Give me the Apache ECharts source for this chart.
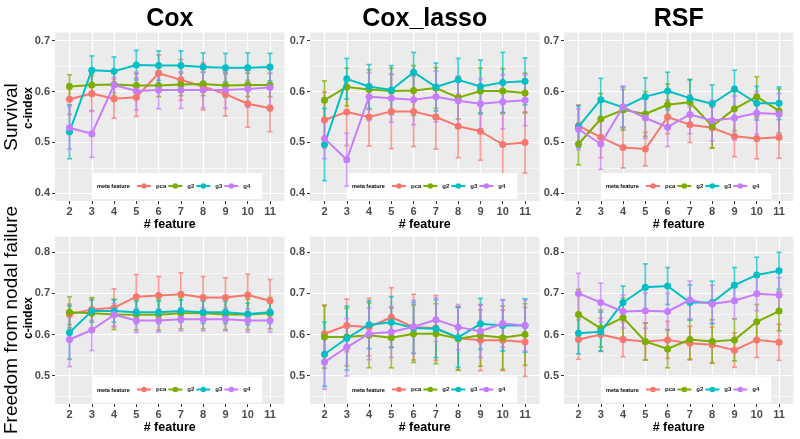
<!DOCTYPE html>
<html>
<head>
<meta charset="utf-8">
<script src="https://cdn.jsdelivr.net/npm/echarts@6/dist/echarts.min.js"></script>
<style>
html,body{margin:0;padding:0;background:#fff;}
#chart{width:800px;height:439px;}
</style>
</head>
<body>
<div id="chart"></div>
<script>
// ---------------- DATA ----------------
const features = [2, 3, 4, 5, 6, 7, 8, 9, 10, 11];
const groups = ['pca', 'g2', 'g3', 'g4'];
const methods = ['Cox', 'Cox_lasso', 'RSF'];
const outcomes = ['Survival', 'Freedom from nodal failure'];
const yTicksSurv = [0.4, 0.5, 0.6, 0.7];
const yMinorSurv = [0.45, 0.55, 0.65];
const yTicksFfnf = [0.5, 0.6, 0.7, 0.8];
const yMinorFfnf = [0.45, 0.55, 0.65, 0.75];

// Cox - Survival
const coxSurv_pca = [0.585, 0.596, 0.586, 0.589, 0.636, 0.623, 0.610, 0.595, 0.576, 0.567];
const coxSurv_pca_err = [0.030, 0.035, 0.038, 0.038, 0.036, 0.040, 0.046, 0.043, 0.046, 0.046];
const coxSurv_g2 = [0.610, 0.613, 0.614, 0.612, 0.612, 0.614, 0.615, 0.612, 0.613, 0.613];
const coxSurv_g2_err = [0.023, 0.022, 0.023, 0.023, 0.022, 0.022, 0.023, 0.023, 0.023, 0.023];
const coxSurv_g3 = [0.521, 0.642, 0.640, 0.652, 0.651, 0.651, 0.648, 0.647, 0.647, 0.648];
const coxSurv_g3_err = [0.053, 0.028, 0.028, 0.029, 0.029, 0.029, 0.028, 0.028, 0.029, 0.027];
const coxSurv_g4 = [0.529, 0.517, 0.613, 0.601, 0.603, 0.603, 0.603, 0.603, 0.605, 0.608];
const coxSurv_g4_err = [0.042, 0.046, 0.015, 0.037, 0.037, 0.036, 0.035, 0.036, 0.036, 0.035];

// Cox_lasso - Survival
const lassoSurv_pca = [0.544, 0.560, 0.550, 0.561, 0.561, 0.550, 0.532, 0.522, 0.496, 0.500];
const lassoSurv_pca_err = [0.055, 0.066, 0.057, 0.073, 0.069, 0.063, 0.062, 0.057, 0.062, 0.060];
const lassoSurv_g2 = [0.583, 0.609, 0.604, 0.601, 0.602, 0.607, 0.588, 0.601, 0.601, 0.597];
const lassoSurv_g2_err = [0.038, 0.037, 0.039, 0.045, 0.049, 0.040, 0.042, 0.045, 0.044, 0.039];
const lassoSurv_g3 = [0.496, 0.625, 0.610, 0.603, 0.638, 0.609, 0.623, 0.610, 0.618, 0.620];
const lassoSurv_g3_err = [0.071, 0.040, 0.043, 0.048, 0.039, 0.047, 0.042, 0.052, 0.059, 0.046];
const lassoSurv_g4 = [0.508, 0.466, 0.590, 0.587, 0.584, 0.590, 0.582, 0.576, 0.580, 0.583];
const lassoSurv_g4_err = [0.040, 0.052, 0.047, 0.047, 0.049, 0.050, 0.048, 0.049, 0.053, 0.050];

// RSF - Survival
const rsfSurv_pca = [0.533, 0.510, 0.490, 0.487, 0.550, 0.535, 0.529, 0.512, 0.508, 0.510];
const rsfSurv_pca_err = [0.041, 0.040, 0.040, 0.033, 0.033, 0.035, 0.040, 0.040, 0.040, 0.041];
const rsfSurv_g2 = [0.497, 0.546, 0.564, 0.556, 0.574, 0.579, 0.532, 0.566, 0.590, 0.562];
const rsfSurv_g2_err = [0.041, 0.050, 0.040, 0.044, 0.041, 0.045, 0.043, 0.043, 0.039, 0.043];
const rsfSurv_g3 = [0.531, 0.584, 0.569, 0.590, 0.601, 0.587, 0.576, 0.605, 0.577, 0.577];
const rsfSurv_g3_err = [0.041, 0.042, 0.040, 0.037, 0.037, 0.036, 0.037, 0.037, 0.033, 0.032];
const rsfSurv_g4 = [0.526, 0.497, 0.570, 0.548, 0.530, 0.555, 0.543, 0.548, 0.558, 0.556];
const rsfSurv_g4_err = [0.040, 0.050, 0.041, 0.040, 0.038, 0.038, 0.040, 0.043, 0.042, 0.040];

// Cox - Freedom from nodal failure
const coxFfnf_pca = [0.649, 0.661, 0.665, 0.692, 0.695, 0.698, 0.690, 0.690, 0.696, 0.682];
const coxFfnf_pca_err = [0.025, 0.027, 0.046, 0.054, 0.046, 0.052, 0.051, 0.048, 0.051, 0.052];
const coxFfnf_g2 = [0.654, 0.652, 0.649, 0.648, 0.648, 0.652, 0.652, 0.649, 0.649, 0.652];
const coxFfnf_g2_err = [0.038, 0.038, 0.037, 0.037, 0.037, 0.038, 0.038, 0.037, 0.037, 0.038];
const coxFfnf_g3 = [0.605, 0.657, 0.657, 0.654, 0.654, 0.657, 0.654, 0.654, 0.650, 0.654];
const coxFfnf_g3_err = [0.065, 0.027, 0.027, 0.027, 0.027, 0.027, 0.027, 0.027, 0.026, 0.027];
const coxFfnf_g4 = [0.588, 0.611, 0.648, 0.634, 0.634, 0.637, 0.637, 0.637, 0.634, 0.634];
const coxFfnf_g4_err = [0.066, 0.050, 0.028, 0.029, 0.028, 0.028, 0.028, 0.028, 0.028, 0.028];

// Cox_lasso - Freedom from nodal failure
const lassoFfnf_pca = [0.602, 0.622, 0.618, 0.642, 0.618, 0.616, 0.591, 0.586, 0.586, 0.582];
const lassoFfnf_pca_err = [0.070, 0.064, 0.070, 0.072, 0.080, 0.079, 0.077, 0.074, 0.074, 0.084];
const lassoFfnf_g2 = [0.594, 0.594, 0.598, 0.592, 0.602, 0.602, 0.590, 0.598, 0.592, 0.600];
const lassoFfnf_g2_err = [0.076, 0.070, 0.079, 0.073, 0.070, 0.073, 0.077, 0.075, 0.077, 0.075];
const lassoFfnf_g3 = [0.552, 0.591, 0.624, 0.630, 0.616, 0.614, 0.593, 0.626, 0.622, 0.622];
const lassoFfnf_g3_err = [0.078, 0.078, 0.058, 0.062, 0.062, 0.070, 0.073, 0.062, 0.062, 0.065];
const lassoFfnf_g4 = [0.533, 0.569, 0.602, 0.606, 0.619, 0.636, 0.618, 0.608, 0.627, 0.622];
const lassoFfnf_g4_err = [0.066, 0.070, 0.063, 0.062, 0.064, 0.053, 0.055, 0.064, 0.058, 0.062];

// RSF - Freedom from nodal failure
const rsfFfnf_pca = [0.588, 0.600, 0.588, 0.583, 0.587, 0.579, 0.575, 0.562, 0.587, 0.581];
const rsfFfnf_pca_err = [0.048, 0.040, 0.042, 0.045, 0.045, 0.041, 0.043, 0.042, 0.043, 0.044];
const rsfFfnf_g2 = [0.649, 0.615, 0.641, 0.583, 0.565, 0.588, 0.583, 0.587, 0.631, 0.657];
const rsfFfnf_g2_err = [0.061, 0.045, 0.048, 0.045, 0.046, 0.048, 0.053, 0.051, 0.042, 0.048];
const rsfFfnf_g3 = [0.603, 0.607, 0.678, 0.715, 0.718, 0.678, 0.678, 0.720, 0.745, 0.755];
const rsfFfnf_g3_err = [0.050, 0.048, 0.040, 0.057, 0.045, 0.043, 0.052, 0.043, 0.043, 0.045];
const rsfFfnf_g4 = [0.700, 0.678, 0.656, 0.658, 0.656, 0.684, 0.674, 0.682, 0.699, 0.696];
const rsfFfnf_g4_err = [0.049, 0.047, 0.040, 0.043, 0.044, 0.046, 0.046, 0.043, 0.041, 0.042];

// ---------------- PANELS (row-major) ----------------
const panelMeans = [
  [coxSurv_pca, coxSurv_g2, coxSurv_g3, coxSurv_g4],
  [lassoSurv_pca, lassoSurv_g2, lassoSurv_g3, lassoSurv_g4],
  [rsfSurv_pca, rsfSurv_g2, rsfSurv_g3, rsfSurv_g4],
  [coxFfnf_pca, coxFfnf_g2, coxFfnf_g3, coxFfnf_g4],
  [lassoFfnf_pca, lassoFfnf_g2, lassoFfnf_g3, lassoFfnf_g4],
  [rsfFfnf_pca, rsfFfnf_g2, rsfFfnf_g3, rsfFfnf_g4]
];
const panelErrs = [
  [coxSurv_pca_err, coxSurv_g2_err, coxSurv_g3_err, coxSurv_g4_err],
  [lassoSurv_pca_err, lassoSurv_g2_err, lassoSurv_g3_err, lassoSurv_g4_err],
  [rsfSurv_pca_err, rsfSurv_g2_err, rsfSurv_g3_err, rsfSurv_g4_err],
  [coxFfnf_pca_err, coxFfnf_g2_err, coxFfnf_g3_err, coxFfnf_g4_err],
  [lassoFfnf_pca_err, lassoFfnf_g2_err, lassoFfnf_g3_err, lassoFfnf_g4_err],
  [rsfFfnf_pca_err, rsfFfnf_g2_err, rsfFfnf_g3_err, rsfFfnf_g4_err]
];

// ---------------- LAYOUT / STYLE ----------------
const colors = ['#F8766D', '#7CAE00', '#00BFC4', '#C77CFF'];
const FONT = 'Liberation Sans, Arial, Helvetica, sans-serif';
const colLeft = [55, 310, 564];
const gridW = 229.5;
const rowTop = [32.5, 236.7];
const rowH = [168.5, 167.3];
const rowY = [[0.385, 0.716], [0.431, 0.838]];
const rowTicks = [yTicksSurv, yTicksFfnf];
const rowMinor = [yMinorSurv, yMinorFfnf];
const xMin = 1.35, xMax = 11.65;

function renderErr(params, api) {
  const x = api.value(0);
  const lo = api.coord([x, api.value(1)]);
  const hi = api.coord([x, api.value(2)]);
  const c = api.visual('color');
  const w = 2.5;
  const st = { stroke: c, lineWidth: 1.7, opacity: 0.7 };
  return {
    type: 'group',
    children: [
      { type: 'line', shape: { x1: lo[0], y1: lo[1], x2: hi[0], y2: hi[1] }, style: st },
      { type: 'line', shape: { x1: lo[0] - w, y1: lo[1], x2: lo[0] + w, y2: lo[1] }, style: st },
      { type: 'line', shape: { x1: hi[0] - w, y1: hi[1], x2: hi[0] + w, y2: hi[1] }, style: st }
    ]
  };
}

const option = {
  animation: false,
  backgroundColor: '#ffffff',
  textStyle: { fontFamily: FONT },
  grid: [], xAxis: [], yAxis: [], series: [], legend: [], graphic: []
};

for (let i = 0; i < 6; i++) {
  const col = i % 3, row = Math.floor(i / 3);
  option.grid.push({
    left: colLeft[col], top: rowTop[row], width: gridW, height: rowH[row],
    show: true, backgroundColor: '#EBEBEB', borderWidth: 0, containLabel: false
  });
  option.xAxis.push({
    type: 'value', gridIndex: i, min: xMin, max: xMax,
    axisLine: { show: false },
    axisTick: { show: true, customValues: features, length: 3, lineStyle: { color: '#333333', width: 1 } },
    axisLabel: { customValues: features, color: '#4D4D4D', fontSize: 11, fontWeight: 'bold', margin: 5, fontFamily: FONT },
    splitLine: { show: true, lineStyle: { color: '#FFFFFF', width: 1.2 } },
    name: '# feature', nameLocation: 'middle', nameGap: 16,
    nameTextStyle: { color: '#000', fontSize: 12.5, fontWeight: 'bold', fontFamily: FONT }
  });
  option.yAxis.push({
    type: 'value', gridIndex: i, min: rowY[row][0], max: rowY[row][1], position: 'left',
    axisLine: { show: false },
    axisTick: { show: true, customValues: rowTicks[row], length: 3, lineStyle: { color: '#333333', width: 1 } },
    axisLabel: { customValues: rowTicks[row], color: '#4D4D4D', fontSize: 11, fontWeight: 'bold', margin: 5, fontFamily: FONT,
                 formatter: v => v.toFixed(1) },
    splitLine: { show: true, lineStyle: { color: '#FFFFFF', width: 1.2 } }
  });
  option.yAxis.push({
    type: 'value', gridIndex: i, min: rowY[row][0], max: rowY[row][1], position: 'left',
    axisLine: { show: false },
    axisTick: { show: false, customValues: rowMinor[row] },
    axisLabel: { show: false, customValues: rowMinor[row] },
    splitLine: { show: true, lineStyle: { color: '#FFFFFF', width: 0.6 } }
  });

  groups.forEach((g, k) => {
    const mean = panelMeans[i][k];
    option.series.push({
      type: 'line', name: g, xAxisIndex: i, yAxisIndex: 2 * i,
      data: features.map((f, j) => [f, mean[j]]),
      symbol: 'circle', symbolSize: 7, showSymbol: true,
      lineStyle: { color: colors[k], width: 2 },
      itemStyle: { color: colors[k] },
      z: 5 + k
    });
  });
  groups.forEach((g, k) => {
    const mean = panelMeans[i][k];
    const err = panelErrs[i][k];
    option.series.push({
      type: 'custom', name: g + ' error', xAxisIndex: i, yAxisIndex: 2 * i,
      data: features.map((f, j) => [f, mean[j] - err[j], mean[j] + err[j]]),
      encode: { x: 0, y: [1, 2] },
      renderItem: renderErr,
      itemStyle: { color: colors[k] },
      z: 2 + k
    });
  });

  // legend box inside the panel
  const boxLeft = colLeft[col] + 37;
  const boxTop = row === 0 ? 173 : 376.5;
  option.legend.push({
    data: groups, orient: 'horizontal', left: boxLeft, top: boxTop,
    backgroundColor: '#FFFFFF', padding: [10, 12, 10, 44],
    itemWidth: 14, itemHeight: 7, itemGap: 1, selectedMode: false,
    textStyle: { fontSize: 6, fontWeight: 'bold', color: '#1A1A1A', fontFamily: FONT }
  });
  option.graphic.push({
    type: 'text', left: boxLeft + 5, top: boxTop + 10.5, z: 100,
    style: { text: 'meta feature', font: 'bold 5.5px ' + FONT, fill: '#000' }
  });
}

// panel titles
methods.forEach((m, c) => {
  option.graphic.push({
    type: 'text', x: colLeft[c] + gridW / 2, y: 19,
    style: { text: m, font: 'bold 25px ' + FONT, fill: '#000',
             textAlign: 'center', textVerticalAlign: 'middle', align: 'center', verticalAlign: 'middle' }
  });
});
// row labels
const rowLabelY = [117, 320];
const cindexY = [108, 318];
outcomes.forEach((o, r) => {
  option.graphic.push({
    type: 'text', x: 12, y: rowLabelY[r], rotation: Math.PI / 2,
    style: { text: o, font: '19px ' + FONT, fill: '#000',
             textAlign: 'center', textVerticalAlign: 'middle', align: 'center', verticalAlign: 'middle' }
  });
  option.graphic.push({
    type: 'text', x: 28.5, y: cindexY[r], rotation: Math.PI / 2,
    style: { text: 'c-index', font: 'bold 12px ' + FONT, fill: '#000',
             textAlign: 'center', textVerticalAlign: 'middle', align: 'center', verticalAlign: 'middle' }
  });
});

const chart = echarts.init(document.getElementById('chart'), null, { renderer: 'canvas' });
chart.setOption(option);
</script>
</body>
</html>
